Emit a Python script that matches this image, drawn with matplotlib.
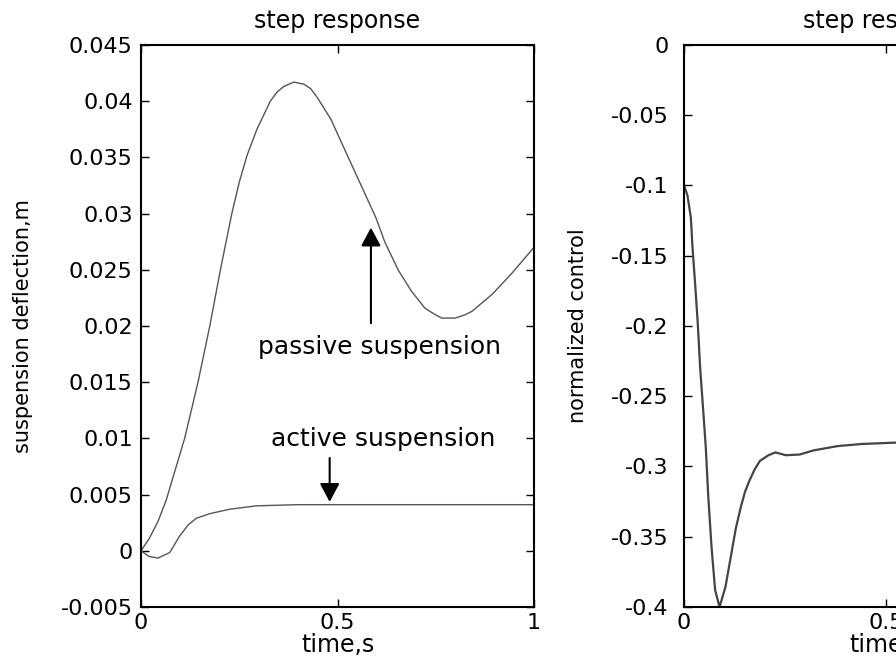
import matplotlib
matplotlib.use('Agg')
import matplotlib.pyplot as plt

# 被动悬架 / 主动悬架 阶跃响应
t_passive = [0, 0.021, 0.043, 0.064, 0.111, 0.145, 0.175, 0.202, 0.231, 0.25, 0.27, 0.295,
             0.329, 0.346, 0.363, 0.389, 0.415, 0.432, 0.449, 0.483, 0.526, 0.568, 0.598,
             0.62, 0.654, 0.688, 0.722, 0.744, 0.765, 0.799, 0.825, 0.842, 0.893, 0.944, 1.0]
y_passive = [0, 0.0011, 0.0026, 0.0045, 0.01, 0.015, 0.02, 0.025, 0.03, 0.0328, 0.0352,
             0.0375, 0.04, 0.0408, 0.0413, 0.0417, 0.0415, 0.0411, 0.0403, 0.0384, 0.0351,
             0.0319, 0.0296, 0.0275, 0.025, 0.0231, 0.0216, 0.0211, 0.0207, 0.0207, 0.021,
             0.0213, 0.0228, 0.0247, 0.027]

t_active = [0, 0.02, 0.043, 0.073, 0.098, 0.12, 0.141, 0.175, 0.226, 0.295, 0.4, 1.0]
y_active = [0, -0.0005, -0.00065, -0.00016, 0.0013, 0.0023, 0.0029, 0.0033, 0.0037, 0.004,
            0.0041, 0.0041]

# 归一化控制量
t_ctrl = [0, 0.0085, 0.017, 0.021, 0.028, 0.034, 0.04, 0.047, 0.054, 0.06, 0.068, 0.077,
          0.088, 0.1026, 0.1154, 0.1282, 0.141, 0.151, 0.162, 0.175, 0.188, 0.209, 0.226,
          0.252, 0.286, 0.32, 0.38, 0.44, 0.526, 1.0]
y_ctrl = [-0.1, -0.107, -0.123, -0.144, -0.172, -0.198, -0.23, -0.258, -0.287, -0.321,
          -0.357, -0.388, -0.4, -0.3857, -0.3649, -0.3441, -0.3284, -0.318, -0.31, -0.302,
          -0.296, -0.292, -0.29, -0.292, -0.2915, -0.2886, -0.2855, -0.284, -0.283, -0.282]

x_ticks = [0, 0.5, 1]
x_labels = ['0', '0.5', '1']
left_yticks = [-0.005, 0, 0.005, 0.01, 0.015, 0.02, 0.025, 0.03, 0.035, 0.04, 0.045]
left_ylabels = ['-0.005', '0', '0.005', '0.01', '0.015', '0.02', '0.025', '0.03',
                '0.035', '0.04', '0.045']
right_yticks = [-0.4, -0.35, -0.3, -0.25, -0.2, -0.15, -0.1, -0.05, 0]
right_ylabels = ['-0.4', '-0.35', '-0.3', '-0.25', '-0.2', '-0.15', '-0.1', '-0.05', '0']

plt.rcParams['font.family'] = ['DejaVu Sans']
plt.rcParams['axes.unicode_minus'] = False

fig = plt.figure(figsize=(8.96, 6.67), dpi=100)
ax1 = fig.add_axes([0.1574, 0.09, 0.4386, 0.8426])
ax2 = fig.add_axes([0.7634, 0.09, 0.451, 0.8426])


def style_axes(ax, yticks, ylabels, ypad):
    ax.set_xlim(0, 1)
    ax.set_xticks(x_ticks)
    ax.set_xticklabels(x_labels)
    ax.set_ylim(yticks[0], yticks[-1])
    ax.set_yticks(yticks)
    ax.set_yticklabels(ylabels)
    ax.tick_params(direction='in', top=True, right=True, length=6, width=1,
                   labelsize=16)
    ax.tick_params(axis='x', pad=4)
    ax.tick_params(axis='y', pad=ypad)
    for s in ax.spines.values():
        s.set_linewidth(1.5)
    ax.set_title('step response', fontsize=17, pad=12)
    ax.set_xlabel('time,s', fontsize=17, labelpad=0)


# 左图
ax1.plot(t_passive, y_passive, color='#555555', lw=1.0)
ax1.plot(t_active, y_active, color='#555555', lw=1.0)
style_axes(ax1, left_yticks, left_ylabels, 6)
ax1.set_ylabel('suspension deflection,m', fontsize=15)
ax1.yaxis.set_label_coords(-0.275, 0.5)

arrow = dict(arrowstyle='-|>,head_width=0.4,head_length=0.75', color='black', lw=1.5,
             mutation_scale=15)
ax1.annotate('', xy=(0.585, 0.0290), xytext=(0.585, 0.0200), arrowprops=arrow)
ax1.text(0.606, 0.01815, 'passive suspension', fontsize=18, ha='center', va='center')
ax1.annotate('', xy=(0.48, 0.0041), xytext=(0.48, 0.0085), arrowprops=arrow)
ax1.text(0.616, 0.0099, 'active suspension', fontsize=18, ha='center', va='center')

# 右图
ax2.plot(t_ctrl, y_ctrl, color='#444444', lw=1.6)
style_axes(ax2, right_yticks, right_ylabels, 11)
ax2.set_ylabel('normalized control', fontsize=15)
ax2.yaxis.set_label_coords(-0.238, 0.5)

fig.savefig('out.png', dpi=100)
